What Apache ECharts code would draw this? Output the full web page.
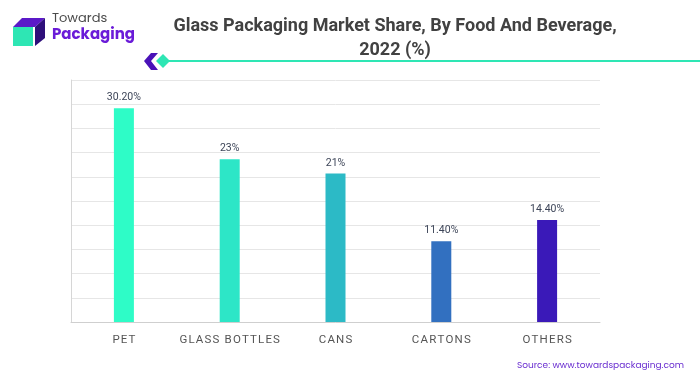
<!DOCTYPE html>
<html>
<head>
<meta charset="utf-8">
<script src="https://cdn.jsdelivr.net/npm/echarts@6/dist/echarts.min.js"></script>
<style>
  html, body { margin: 0; padding: 0; background: #fff; }
  #chart { width: 700px; height: 375px; }
</style>
</head>
<body>
<div id="chart"></div>
<script>
// data
var categories = ['PET', 'GLASS BOTTLES', 'CANS', 'CARTONS', 'OTHERS'];
var shares = [30.2, 23, 21, 11.4, 14.4];
var shareLabels = ['30.20%', '23%', '21%', '11.40%', '14.40%'];
var barColors = ['#2efcc7', '#2de6c7', '#2cbac6', '#3270c0', '#3a19b8'];

var chart = echarts.init(document.getElementById('chart'));

// spread the category letters a bit, like the original
function spaced(s) {
  return s.split('').join('\u200a');
}

chart.setOption({
  animation: false,
  title: {
    text: 'Glass Packaging Market Share, By Food And Beverage,\n2022 (%)',
    left: 390,
    top: 9,
    textAlign: 'center',
    textStyle: {
      fontFamily: 'Roboto',
      fontSize: 18,
      fontWeight: 'bold',
      color: '#414141',
      lineHeight: 24
    }
  },
  grid: { left: 71, right: 100, top: 80, bottom: 53 },
  xAxis: {
    type: 'category',
    data: categories,
    axisLine: { lineStyle: { color: '#cfcfcf' } },
    axisTick: { show: false },
    axisLabel: {
      interval: 0,
      margin: 12,
      fontFamily: 'Roboto',
      fontSize: 11.5,
      color: '#555',
      formatter: spaced
    }
  },
  yAxis: {
    type: 'value',
    min: 0,
    max: 34.2,
    interval: 3.42,
    axisLine: { show: true, lineStyle: { color: '#d6d6d6' } },
    axisLabel: { show: false },
    axisTick: { show: false },
    splitLine: { lineStyle: { color: '#e6e6e6' } }
  },
  series: [{
    type: 'bar',
    barWidth: 20,
    data: shares.map(function (v, i) {
      return { value: v, itemStyle: { color: barColors[i] } };
    }),
    label: {
      show: true,
      position: 'top',
      distance: 5,
      fontFamily: 'Roboto',
      fontSize: 10.5,
      color: '#3d4558',
      formatter: function (p) { return shareLabels[p.dataIndex]; }
    }
  }],
  graphic: [
    // logo cube
    { type: 'polygon', shape: { points: [[13, 27], [22, 18], [45, 18], [35, 27]] }, style: { fill: '#5b19c8' } },
    { type: 'polygon', shape: { points: [[35, 27], [45, 18], [45, 38], [35, 46]] }, style: { fill: '#2e0f7a' } },
    { type: 'rect', shape: { x: 13, y: 27, width: 20, height: 19 }, style: { fill: '#2ee6b4' } },
    { type: 'text', left: 52, top: 12, style: { text: 'Towards', fontFamily: 'Poppins, Lato, sans-serif', fontSize: 13, fill: '#4a4a4a' } },
    { type: 'text', left: 52, top: 28, style: { text: 'Packaging', fontFamily: 'Poppins, Lato, sans-serif', fontSize: 15, fontWeight: 'bold', fill: '#6a1bd8' } },
    // chevron and rule under the title
    { type: 'polygon', shape: { points: [[151, 53], [158, 53], [151, 61], [158, 70], [151, 70], [144, 61]] }, style: { fill: '#4a12b8' } },
    { type: 'line', shape: { x1: 168, y1: 61, x2: 700, y2: 61 }, style: { stroke: '#2ee6b4', lineWidth: 2 } },
    { type: 'polygon', shape: { points: [[163, 54], [170, 61], [163, 68], [156, 61]] }, style: { fill: '#2ee6b4' } },
    // source
    { type: 'text', right: 16, top: 361, style: { text: 'Source: www.towardspackaging.com', fontFamily: 'Poppins, Lato, sans-serif', fontSize: 9, fill: '#6a2fd0' } }
  ]
});
</script>
</body>
</html>
